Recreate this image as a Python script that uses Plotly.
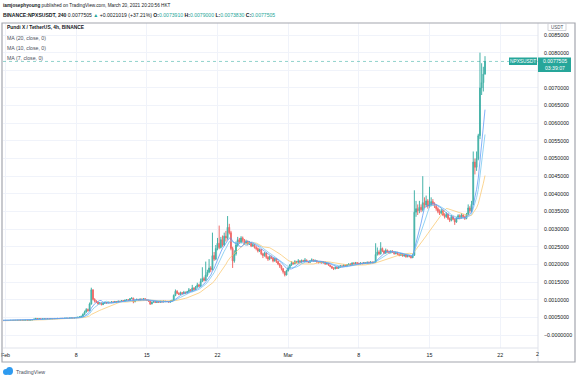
import numpy as np
import pandas as pd
import plotly.graph_objects as go

# ---------------- data (prices in micro-USDT, 4h candles from 2021-01-28 00:00) ----------------
start_time = "2021-01-28 00:00"
first_open_u = 393
close_u = [
    395, 398, 400, 397, 399, 402,      # Jan 28
    405, 401, 403, 406, 404, 400,      # Jan 29
    402, 405, 408, 404, 406, 409,      # Jan 30
    407, 410, 406, 408, 411, 409,      # Jan 31
    412, 409, 411, 414, 412, 415,      # Feb 1
    413, 416, 414, 418, 415, 417,      # Feb 2
    419, 416, 420, 425, 438, 452,      # Feb 3
    468, 455, 462, 449, 457, 461,      # Feb 4
    458, 464, 460, 466, 462, 468,      # Feb 5
    465, 471, 467, 473, 469, 475,      # Feb 6
    478, 472, 480, 486, 481, 490,      # Feb 7
    498, 505, 512, 530, 585, 650,      # Feb 8
    720, 690, 880, 1280, 1010, 960,    # Feb 9
    930, 880, 910, 860, 900, 920,      # Feb 10
    905, 930, 915, 940, 925, 950,      # Feb 11
    935, 960, 945, 975, 960, 985,      # Feb 12
    1000, 985, 1030, 1045, 940, 990,   # Feb 13
    1010, 985, 1020, 1000, 1030, 1005, # Feb 14
    990, 960, 880, 930, 950, 920,      # Feb 15
    940, 925, 955, 935, 960, 945,      # Feb 16
    950, 930, 965, 980, 1120, 1240,    # Feb 17
    1180, 1150, 1200, 1170, 1210, 1190,# Feb 18
    1230, 1280, 1250, 1330, 1290, 1360,# Feb 19
    1420, 1380, 1520, 1600, 1550, 1700,# Feb 20
    1780, 1900, 1850, 2250, 2150, 2450,# Feb 21
    2600, 2480, 2700, 2550, 2800, 2750,# Feb 22
    3050, 2900, 2450, 2100, 2300, 2550,# Feb 23
    2700, 2620, 2750, 2680, 2600, 2650,# Feb 24
    2580, 2620, 2520, 2560, 2480, 2450,# Feb 25
    2380, 2420, 2300, 2250, 2320, 2200,# Feb 26
    2150, 2220, 2180, 2100, 2160, 2080,# Feb 27
    2010, 1950, 1880, 1790, 1700, 1820,# Feb 28
    1900, 1980, 2050, 2020, 2080, 2060,# Mar 1
    2100, 2070, 2110, 2090, 2120, 2080,# Mar 2
    2060, 2100, 2130, 2090, 2110, 2070,# Mar 3
    2050, 2080, 2040, 2070, 2010, 2030,# Mar 4
    1980, 1940, 1900, 1880, 1920, 1890,# Mar 5
    1930, 1960, 1940, 1980, 1960, 1990,# Mar 6
    2010, 1990, 2040, 2020, 2050, 2030,# Mar 7
    2010, 2040, 2020, 2050, 2030, 2060,# Mar 8
    2040, 2070, 2050, 2060, 2280, 2350,# Mar 9
    2300, 2450, 2380, 2320, 2400, 2360,# Mar 10
    2330, 2380, 2350, 2300, 2340, 2290,# Mar 11
    2260, 2300, 2240, 2270, 2220, 2250,# Mar 12
    2230, 2190, 2260, 3480, 3580, 3520,# Mar 13
    3620, 3550, 3750, 3680, 3800, 3650,# Mar 14
    3700, 3780, 3720, 3650, 3580, 3500,# Mar 15
    3450, 3520, 3400, 3350, 3420, 3300,# Mar 16
    3250, 3350, 3280, 3200, 3300, 3380,# Mar 17
    3320, 3400, 3350, 3300, 3420, 3600,# Mar 18
    3520, 3700, 4900, 4750, 5000, 5648.6,  # Mar 19
    7000, 7150, 7391, 7750.5,          # Mar 20
]
high_u = [
    398, 401, 403, 401, 402, 405,
    408, 407, 405, 409, 408, 406,
    404, 408, 411, 410, 409, 412,
    412, 413, 412, 411, 414, 414,
    415, 415, 414, 417, 417, 418,
    418, 419, 419, 421, 421, 420,
    423, 422, 424, 430, 445, 462,
    485, 472, 470, 466, 462, 468,
    465, 468, 467, 470, 469, 472,
    472, 475, 474, 478, 476, 480,
    484, 481, 485, 492, 490, 496,
    505, 512, 520, 545, 610, 690,
    760, 750, 920, 1340, 1290, 1040,
    985, 945, 930, 925, 915, 940,
    935, 945, 940, 955, 950, 965,
    960, 970, 970, 990, 985, 1000,
    1015, 1010, 1045, 1070, 1055, 1000,
    1030, 1020, 1035, 1030, 1045, 1040,
    1020, 1000, 975, 945, 965, 960,
    955, 950, 970, 965, 975, 970,
    965, 960, 975, 1000, 1150, 1290,
    1270, 1210, 1230, 1220, 1250, 1230,
    1250, 1330, 1300, 1420, 1350, 1390,
    1480, 1450, 1600, 1920, 1650, 2080,
    1850, 2150, 1950, 2900, 2350, 2550,
    2750, 3100, 2780, 2820, 2900, 2950,
    3370, 3150, 2950, 2500, 2400, 2650,
    2780, 2750, 2800, 2790, 2720, 2700,
    2680, 2660, 2640, 2600, 2580, 2520,
    2480, 2450, 2440, 2330, 2350, 2340,
    2240, 2250, 2250, 2200, 2190, 2180,
    2100, 2040, 1980, 1900, 1810, 1850,
    1930, 2010, 2090, 2070, 2120, 2100,
    2150, 2120, 2140, 2130, 2180, 2140,
    2100, 2120, 2170, 2140, 2140, 2120,
    2090, 2100, 2100, 2090, 2080, 2050,
    2040, 1990, 1960, 1920, 1940, 1930,
    1950, 1980, 1970, 2000, 1990, 2010,
    2030, 2030, 2060, 2060, 2070, 2060,
    2050, 2060, 2050, 2070, 2060, 2080,
    2080, 2090, 2080, 2090, 2600, 2480,
    2400, 2630, 2480, 2400, 2450, 2420,
    2390, 2400, 2400, 2370, 2370, 2360,
    2310, 2320, 2310, 2290, 2280, 2270,
    2270, 2250, 2300, 4100, 3800, 3700,
    3800, 3700, 4500, 3900, 3950, 3850,
    4200, 3900, 3850, 3760, 3700, 3620,
    3560, 3580, 3560, 3450, 3480, 3450,
    3330, 3400, 3380, 3300, 3350, 3420,
    3420, 3450, 3420, 3380, 3460, 3700,
    3650, 3800, 5200, 5000, 5200, 5700,
    8000, 7700, 7600, 7900,
]
low_u = [
    391, 393, 396, 394, 395, 397,
    400, 399, 399, 401, 402, 398,
    398, 400, 403, 402, 402, 404,
    404, 405, 404, 404, 406, 407,
    406, 407, 407, 409, 410, 410,
    410, 411, 412, 412, 413, 413,
    414, 413, 414, 417, 422, 434,
    447, 450, 451, 445, 446, 452,
    453, 455, 456, 457, 458, 459,
    460, 462, 464, 464, 466, 466,
    470, 468, 469, 476, 477, 478,
    485, 492, 498, 505, 525, 575,
    630, 660, 680, 860, 980, 920,
    905, 860, 870, 840, 850, 885,
    890, 895, 905, 905, 915, 915,
    925, 925, 935, 935, 950, 950,
    975, 970, 975, 1020, 900, 930,
    980, 975, 975, 990, 990, 995,
    975, 945, 850, 870, 920, 905,
    910, 915, 915, 925, 925, 935,
    935, 920, 920, 955, 970, 1100,
    1160, 1130, 1140, 1150, 1160, 1170,
    1175, 1210, 1230, 1240, 1270, 1280,
    1340, 1360, 1370, 1500, 1520, 1530,
    1650, 1750, 1780, 1830, 2100, 2120,
    2400, 2430, 2450, 2500, 2520, 2650,
    2700, 2850, 2400, 1900, 2050, 2250,
    2500, 2580, 2600, 2620, 2550, 2560,
    2540, 2550, 2490, 2500, 2450, 2400,
    2340, 2350, 2260, 2180, 2220, 2160,
    2100, 2120, 2150, 2060, 2080, 2040,
    1980, 1900, 1830, 1740, 1660, 1690,
    1800, 1880, 1960, 1990, 2000, 2030,
    2040, 2050, 2050, 2070, 2070, 2060,
    2040, 2040, 2080, 2070, 2070, 2050,
    2030, 2030, 2020, 2030, 1990, 2000,
    1960, 1920, 1870, 1840, 1860, 1870,
    1880, 1910, 1920, 1930, 1950, 1950,
    1980, 1970, 1980, 2000, 2010, 2010,
    1990, 2000, 2000, 2010, 2010, 2020,
    2020, 2030, 2030, 2040, 2050, 2250,
    2260, 2280, 2350, 2290, 2300, 2330,
    2300, 2310, 2330, 2280, 2290, 2270,
    2230, 2240, 2220, 2220, 2190, 2200,
    2200, 2170, 2180, 2240, 3350, 3400,
    3450, 3480, 3500, 3600, 3620, 3580,
    3600, 3650, 3680, 3600, 3520, 3450,
    3400, 3420, 3370, 3300, 3320, 3260,
    3200, 3220, 3250, 3120, 3180, 3280,
    3280, 3300, 3320, 3260, 3280, 3400,
    3450, 3480, 3680, 4550, 4650, 4950,
    5550, 6800, 6900, 7383,
]
ma_periods = [20, 10, 7]
ma_colors = ["rgba(250,195,100,0.7)", "rgba(120,200,240,0.8)", "rgba(90,150,245,0.75)"]
y_ticks = [i * 0.0005 for i in range(18)]
y_ticktext = ["\u22120.0000000"] + ["%.7f" % v for v in y_ticks[1:]]
y_ticktext[15] = ""  # hidden behind the last-price label
x_tickdates = ["2021-02-01", "2021-02-08", "2021-02-15", "2021-02-22",
               "2021-03-01", "2021-03-08", "2021-03-15", "2021-03-22"]
x_ticktext = ["Feb", "8", "15", "22", "Mar", "8", "15", "22"]
last_price = 0.0077505

# ---------------- derived ----------------
scale = 1e-6
close = np.array(close_u, dtype=float) * scale
opens = np.concatenate([[first_open_u], np.array(close_u[:-1], dtype=float)]) * scale
high = np.maximum.reduce([np.array(high_u, dtype=float) * scale, opens, close])
low = np.minimum.reduce([np.array(low_u, dtype=float) * scale, opens, close])
times = pd.date_range(start_time, periods=len(close_u), freq="4h")

# ---------------- layout geometry (pixels) ----------------
W, H = 583, 378
PL, PR, PT, PB = 3, 538, 23, 348
t0 = pd.Timestamp("2021-02-01 00:00")
px_feb1, px_per_day = 5.5, 10.095
def px_to_time(px):
    return t0 + pd.Timedelta(days=(px - px_feb1) / px_per_day)
def py_to_price(py):
    return (335.0 - py) / 35.294 * 0.001
def fx(px):
    return (px - PL) / (PR - PL)
def fy(py):
    return (PB - py) / (PB - PT)

FONT = "Liberation Sans, Arial, sans-serif"
UP, DOWN = "#26a69a", "#ef5350"

fig = go.Figure()
fig.add_trace(go.Candlestick(
    x=times, open=opens, high=high, low=low, close=close,
    increasing=dict(line=dict(color=UP, width=1), fillcolor=UP),
    decreasing=dict(line=dict(color=DOWN, width=1), fillcolor=DOWN),
    opacity=0.85, whiskerwidth=0, showlegend=False, hoverinfo="skip"))
cs = pd.Series(close)
for n, col in zip(ma_periods, ma_colors):
    fig.add_trace(go.Scatter(x=times, y=cs.rolling(n).mean(), mode="lines",
                             line=dict(color=col, width=1), showlegend=False, hoverinfo="skip"))

shapes = []
shapes.append(dict(type="line", xref="paper", yref="y", x0=0, x1=1, y0=last_price, y1=last_price,
                   line=dict(color="rgba(38,166,154,0.5)", width=1, dash="dot")))
def rect_px(x0, y0, x1, y1, **kw):
    return dict(type="rect", xref="paper", yref="paper", x0=fx(x0), x1=fx(x1), y0=fy(y1), y1=fy(y0), **kw)
def line_px(x0, y0, x1, y1, color, width=1):
    return dict(type="line", xref="paper", yref="paper", x0=fx(x0), x1=fx(x1), y0=fy(y0), y1=fy(y1),
                line=dict(color=color, width=width))
shapes.append(line_px(PL, PB, PR, PB, "#e0e3eb"))
shapes.append(line_px(PR, PT, PR, 362, "#e0e3eb"))
shapes.append(rect_px(2, 23, 575, 362, line=dict(color="#a3a6ae", width=1.2), fillcolor="rgba(0,0,0,0)"))
shapes.append(rect_px(509, 57.5, 537, 65, line=dict(width=0), fillcolor=UP))
shapes.append(rect_px(538, 57.5, 571, 72, line=dict(width=0), fillcolor=UP))
shapes.append(rect_px(548, 23.5, 566, 30.5, line=dict(color="#c5c8cf", width=0.8), fillcolor="white"))
shapes.append(dict(type="circle", xref="paper", yref="paper", x0=fx(3), x1=fx(9), y0=fy(375), y1=fy(369),
                   fillcolor="#2e9bf0", line=dict(width=0)))
shapes.append(dict(type="circle", xref="paper", yref="paper", x0=fx(6), x1=fx(13), y0=fy(375), y1=fy(367),
                   fillcolor="#2e9bf0", line=dict(width=0)))

anns = []
def ann(px, py, text, size, color="#131722", xanchor="left"):
    anns.append(dict(xref="paper", yref="paper", x=fx(px), y=fy(py), text=text, showarrow=False,
                     xanchor=xanchor, yanchor="middle", font=dict(size=size, color=color, family=FONT)))

ann(1, 5, "<b>iamjosephyoung</b> published on TradingView.com, March 20, 2021 20:20:56 HKT", 4.7)
g = lambda s: "<span style='color:%s'>%s</span>" % (UP, s)
ann(1, 15, "<b>BINANCE:NPXSUSDT, 240</b> 0.0077505 " + g("\u25b2") + " +0.0021019 (+37.21%) "
    "<b>O:</b>" + g("0.0073910") + " <b>H:</b>" + g("0.0079000") + " <b>L:</b>" + g("0.0073830")
    + " <b>C:</b>" + g("0.0077505"), 5.1)
ann(5, 28, "<b>Pundi X / TetherUS, 4h, BINANCE</b>", 4.9)
ann(5, 38, "MA (20, close, 0)", 5.2, "#4a4f5c")
ann(5, 48, "MA (10, close, 0)", 5.2, "#4a4f5c")
ann(5, 57.5, "MA (7, close, 0)", 5.2, "#4a4f5c")
ann(557, 27, "USDT", 4.5, "#4a4f5c", "center")
ann(523, 61.3, "NPXSUSDT", 4.8, "white", "center")
ann(554.5, 61.3, "0.0077505", 5.1, "white", "center")
ann(554.5, 68, "03:39:07", 5.1, "white", "center")
ann(537, 354, "2", 5.3, "#131722", "center")
ann(14, 371.5, "TradingView", 5.3, "#4a4f5c")

fig.update_layout(
    template="none",
    width=W, height=H, autosize=False,
    margin=dict(l=PL, r=W - PR, t=PT, b=H - PB, pad=0, autoexpand=False),
    paper_bgcolor="white", plot_bgcolor="white",
    font=dict(family=FONT, size=5.3, color="#131722"),
    shapes=shapes, annotations=anns, showlegend=False,
    xaxis=dict(type="date", range=[px_to_time(PL), px_to_time(PR)], rangeslider=dict(visible=False),
               tickvals=x_tickdates, ticktext=x_ticktext, showgrid=True, gridcolor="#f0f3fa",
               gridwidth=1, zeroline=False, showline=False, ticks="", ticklabelstandoff=3,
               automargin=False, tickfont=dict(size=5.3, color="#131722", family=FONT)),
    yaxis=dict(side="right", range=[py_to_price(PB), py_to_price(PT)], tickvals=y_ticks,
               ticktext=y_ticktext, showgrid=True, gridcolor="#f0f3fa", gridwidth=1,
               zeroline=False, showline=False, ticks="", ticklabelstandoff=5,
               automargin=False, tickfont=dict(size=5.3, color="#131722", family=FONT)),
)
fig.write_html("out.html", config={"displayModeBar": False},
               post_script="document.body.style.margin='0';document.body.style.overflow='hidden';")
